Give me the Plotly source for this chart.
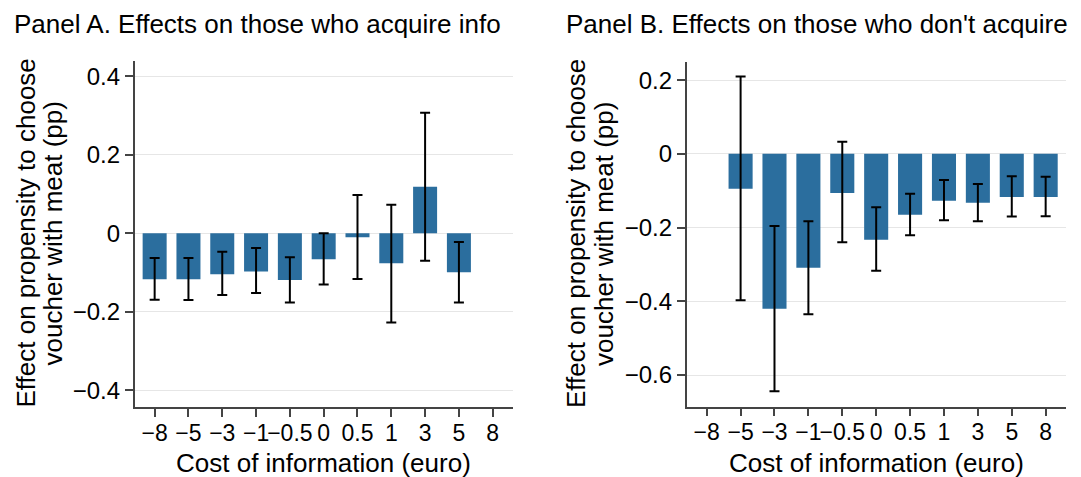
import plotly.graph_objects as go

# ---- data ----
cost_labels = ["\u22128", "\u22125", "\u22123", "\u22121", "\u22120.5", "0", "0.5", "1", "3", "5", "8"]

# Panel A: those who acquire info (no estimate at cost 8)
a_costs = ["\u22128", "\u22125", "\u22123", "\u22121", "\u22120.5", "0", "0.5", "1", "3", "5"]
a_coef = [-0.117, -0.117, -0.104, -0.097, -0.119, -0.066, -0.010, -0.076, 0.119, -0.099]
a_lo = [-0.169, -0.170, -0.157, -0.152, -0.176, -0.130, -0.116, -0.227, -0.070, -0.176]
a_hi = [-0.063, -0.063, -0.047, -0.037, -0.061, 0.000, 0.098, 0.073, 0.307, -0.022]

# Panel B: those who don't acquire (no estimate at cost -8)
b_costs = ["\u22125", "\u22123", "\u22121", "\u22120.5", "0", "0.5", "1", "3", "5", "8"]
b_coef = [-0.095, -0.420, -0.309, -0.106, -0.233, -0.165, -0.127, -0.133, -0.117, -0.117]
b_lo = [-0.397, -0.644, -0.435, -0.240, -0.317, -0.221, -0.180, -0.183, -0.170, -0.169]
b_hi = [0.210, -0.196, -0.183, 0.033, -0.145, -0.108, -0.071, -0.082, -0.061, -0.062]

a_yticks = [0.4, 0.2, 0, -0.2, -0.4]
b_yticks = [0.2, 0, -0.2, -0.4, -0.6]

# ---- styling ----
OFF = 8  # default page margin of the html body
W, H = 1081 - OFF, 477 - OFF
FONT = "Liberation Sans, Arial, Helvetica, sans-serif"
BAR = "#2b6e9e"
AXC = "#444444"
GRID = "#e6e6e6"


def px(x):
    return (x - OFF) / W


def py(y):
    return 1 - (y - OFF) / H


fig = go.Figure()


def add_panel(costs, coef, lo, hi, xa, ya):
    pos = [cost_labels.index(c) for c in costs]
    fig.add_trace(go.Bar(
        x=pos, y=coef, xaxis=xa, yaxis=ya,
        width=0.71,
        marker=dict(color=BAR, line=dict(width=0)),
        error_y=dict(type="data",
                     array=[h - c for h, c in zip(hi, coef)],
                     arrayminus=[c - l for c, l in zip(coef, lo)],
                     color="#000000", thickness=2, width=5),
        showlegend=False,
    ))


add_panel(a_costs, a_coef, a_lo, a_hi, "x", "y")
add_panel(b_costs, b_coef, b_lo, b_hi, "x2", "y2")

xcommon = dict(
    tickmode="array", tickvals=list(range(len(cost_labels))), ticktext=cost_labels,
    range=[-0.59, 10.6], showgrid=False, zeroline=False,
    showline=True, linecolor=AXC, linewidth=1.5,
    ticks="outside", ticklen=8, tickwidth=1.5, tickcolor=AXC,
    tickfont=dict(family=FONT, size=23, color="#000000"),
    tickangle=0, ticklabelstandoff=-4,
)
ycommon = dict(
    showgrid=True, gridcolor=GRID, gridwidth=1, zeroline=False,
    showline=True, linecolor=AXC, linewidth=1.5,
    ticks="outside", ticklen=8, tickwidth=1.5, tickcolor=AXC,
    tickfont=dict(family=FONT, size=24, color="#000000"),
    tickmode="array",
)

fig.update_layout(
    width=W, height=H,
    margin=dict(l=0, r=0, t=0, b=0),
    paper_bgcolor="white", plot_bgcolor="white",
    font=dict(family=FONT, color="#000000"),
    bargap=0.29,
    xaxis=dict(domain=[px(134.7), px(513)], anchor="y", **xcommon),
    yaxis=dict(domain=[py(407.3), py(61)], anchor="x", range=[-0.443, 0.439],
               tickvals=a_yticks, **ycommon),
    xaxis2=dict(domain=[px(686.7), px(1066)], anchor="y2", **xcommon),
    yaxis2=dict(domain=[py(406.7), py(61.7)], anchor="x2", range=[-0.686, 0.25],
                tickvals=b_yticks, **ycommon),
)

TS = 26
ann = []
ann.append(dict(text="Panel A. Effects on those who acquire info", x=px(13), y=1,
                xanchor="left", yanchor="top", borderpad=0, font=dict(size=TS)))
ann.append(dict(text="Panel B. Effects on those who don't acquire", x=px(565), y=1,
                xanchor="left", yanchor="top", borderpad=0, font=dict(size=TS)))
for cx in (323.5, 876):
    ann.append(dict(text="Cost of information (euro)", x=px(cx), y=py(463),
                    xanchor="center", yanchor="middle", font=dict(size=TS)))
for x1, x2, cy in ((25, 52, 233.5), (576, 604, 234)):
    ann.append(dict(text="Effect on propensity to choose", x=px(x1), y=py(cy), textangle=-90,
                    xanchor="center", yanchor="middle", font=dict(size=TS)))
    ann.append(dict(text="voucher with meat (pp)", x=px(x2), y=py(cy), textangle=-90,
                    xanchor="center", yanchor="middle", font=dict(size=TS)))
for a in ann:
    a.update(xref="paper", yref="paper", showarrow=False)
    a["font"].update(family=FONT, color="#000000")
fig.update_layout(annotations=ann)

fig.write_html("out.html")
